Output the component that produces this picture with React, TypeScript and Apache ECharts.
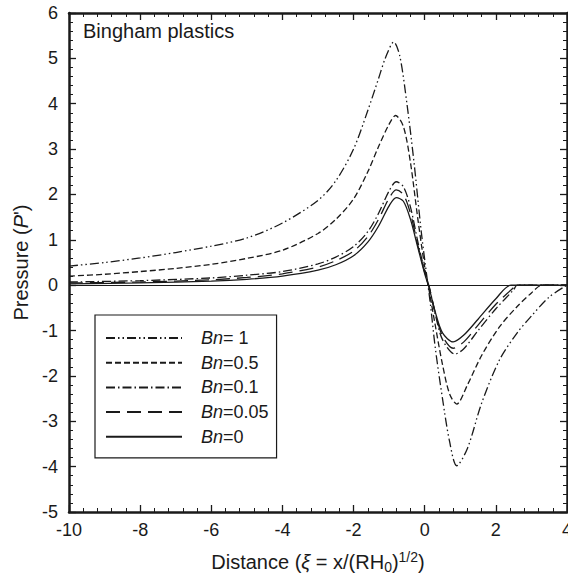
import React, { useEffect, useRef } from "react";
import * as echarts from "echarts";

const seriesNames = ["Bn= 1", "Bn=0.5", "Bn=0.1", "Bn=0.05", "Bn=0"];

const bn1: [number, number][] = [
  [-10, 0.42], [-9, 0.5], [-8, 0.6], [-7, 0.72], [-6, 0.86], [-5, 1.04], [-4, 1.37],
  [-3, 1.87], [-2.5, 2.3], [-2, 3.0], [-1.6, 3.85], [-1.3, 4.55], [-1.1, 5.02], [-0.87, 5.36],
  [-0.7, 5.05], [-0.5, 4.0], [-0.3, 2.7], [-0.1, 1.2], [0.05, 0.25], [0.15, -0.35], [0.3, -1.4],
  [0.5, -2.5], [0.7, -3.45], [0.9, -3.98], [1.2, -3.6], [1.6, -2.6], [2.1, -1.65], [2.6, -1.05],
  [3.0, -0.68], [3.5, -0.26], [4.0, 0],
];
const bn05: [number, number][] = [
  [-10, 0.2], [-9, 0.24], [-8, 0.3], [-7, 0.37], [-6, 0.46], [-5, 0.59], [-4, 0.77],
  [-3, 1.14], [-2.5, 1.45], [-2, 1.9], [-1.6, 2.5], [-1.3, 3.05], [-1.0, 3.55], [-0.82, 3.74],
  [-0.6, 3.5], [-0.4, 2.7], [-0.2, 1.5], [0, 0.4], [0.12, -0.1], [0.3, -0.9], [0.5, -1.75],
  [0.7, -2.4], [0.9, -2.62], [1.2, -2.2], [1.6, -1.55], [2.1, -0.92], [2.6, -0.47], [3.0, -0.17],
  [3.3, 0], [4.0, 0],
];
const bn01: [number, number][] = [
  [-10, 0.07], [-8, 0.1], [-6, 0.16], [-5, 0.22], [-4, 0.3], [-3, 0.47], [-2.5, 0.62],
  [-2, 0.85], [-1.6, 1.18], [-1.3, 1.58], [-1.0, 2.08], [-0.8, 2.28], [-0.6, 2.17], [-0.4, 1.72],
  [-0.2, 0.98], [0, 0.3], [0.13, -0.05], [0.3, -0.65], [0.5, -1.2], [0.85, -1.52], [1.1, -1.4],
  [1.5, -1.0], [2.0, -0.52], [2.5, -0.1], [2.6, 0], [4.0, 0],
];
const bn005: [number, number][] = [
  [-10, 0.05], [-8, 0.07], [-6, 0.12], [-5, 0.17], [-4, 0.25], [-3, 0.4], [-2.5, 0.54],
  [-2, 0.75], [-1.6, 1.07], [-1.3, 1.45], [-1.0, 1.92], [-0.8, 2.1], [-0.6, 2.0], [-0.4, 1.58],
  [-0.2, 0.9], [0, 0.28], [0.13, -0.05], [0.3, -0.62], [0.5, -1.12], [0.8, -1.39], [1.1, -1.25],
  [1.5, -0.88], [2.0, -0.42], [2.5, -0.05], [2.55, 0], [4.0, 0],
];
const bn0: [number, number][] = [
  [-10, 0.03], [-8, 0.05], [-6, 0.09], [-5, 0.13], [-4, 0.2], [-3, 0.33], [-2.5, 0.45],
  [-2, 0.65], [-1.6, 0.95], [-1.3, 1.3], [-1.0, 1.75], [-0.8, 1.93], [-0.6, 1.85], [-0.4, 1.45],
  [-0.2, 0.85], [0, 0.25], [0.12, -0.05], [0.3, -0.6], [0.5, -1.05], [0.8, -1.25], [1.1, -1.1],
  [1.5, -0.75], [2.0, -0.3], [2.43, 0], [4.0, 0],
];

const allData = [bn1, bn05, bn01, bn005, bn0];
const dashes: (number[] | string)[] = [
  [9, 3, 1.5, 3, 1.5, 3],
  [6, 3],
  [9, 3, 1.5, 3],
  [14, 7],
  "solid",
];

const xTicks = { min: -10, max: 4, interval: 2 };
const yTicks = { min: -5, max: 6, interval: 1 };

const FONT = "Liberation Sans, Arial, sans-serif";
const INK = "#1a1a1a";

export default function App() {
  const ref = useRef<HTMLDivElement>(null);
  useEffect(() => {
    if (!ref.current) return;
    document.body.style.margin = "0";
    document.documentElement.style.overflow = "hidden";
    document.body.style.overflow = "hidden";
    const chart = echarts.init(ref.current, undefined, { renderer: "svg", width: 568, height: 583 });
    const axisCommon = {
      axisLine: { show: true, onZero: false, lineStyle: { color: INK, width: 2.5 } },
      axisTick: { show: true, inside: true, length: 7, lineStyle: { color: INK, width: 1.3 } },
      minorTick: { show: true, splitNumber: 5, length: 4, lineStyle: { color: INK, width: 1 } },
      splitLine: { show: false },
      minorSplitLine: { show: false },
    };
    chart.setOption({
      animation: false,
      backgroundColor: "#fff",
      textStyle: { fontFamily: FONT },
      grid: { left: 69, right: 1, top: 13, bottom: 71, containLabel: false, outerBoundsMode: "none" },
      xAxis: [
        {
          type: "value", ...xTicks, position: "bottom",
          ...axisCommon,
          axisLabel: { show: true, color: INK, fontSize: 18, fontFamily: FONT, margin: 9 },
          name: "Distance ({i|ξ} = x/(RH{sub|0}){sup|1/2})",
          nameLocation: "middle",
          nameGap: 38,
          nameTextStyle: {
            color: INK, fontSize: 20, fontFamily: FONT,
            rich: {
              i: { fontStyle: "italic", fontSize: 20, color: INK, fontFamily: FONT },
              sub: { fontSize: 14, color: INK, fontFamily: FONT, verticalAlign: "bottom", padding: [10, 0, 0, 0] },
              sup: { fontSize: 14, color: INK, fontFamily: FONT, verticalAlign: "top", padding: [0, 0, 10, 0] },
            },
          },
        },
        {
          type: "value", ...xTicks, position: "top",
          ...axisCommon,
          axisLabel: { show: false },
        },
      ],
      yAxis: [
        {
          type: "value", ...yTicks, position: "left",
          ...axisCommon,
          axisLabel: { show: true, color: INK, fontSize: 18, fontFamily: FONT, margin: 11 },
          name: "Pressure ({i|P}')",
          nameLocation: "middle",
          nameGap: 38,
          nameTextStyle: {
            color: INK, fontSize: 20, fontFamily: FONT,
            rich: { i: { fontStyle: "italic", fontSize: 20, color: INK, fontFamily: FONT } },
          },
        },
        {
          type: "value", ...yTicks, position: "right",
          ...axisCommon,
          axisLabel: { show: false },
        },
      ],
      legend: {
        show: true,
        orient: "vertical",
        left: 95,
        top: 315,
        data: seriesNames,
        itemWidth: 76,
        itemHeight: 12,
        itemGap: 6.7,
        padding: [14, 8, 12, 10],
        borderColor: INK,
        borderWidth: 1.2,
        backgroundColor: "#fff",
        itemStyle: { color: "rgba(0,0,0,0)", borderColor: "rgba(0,0,0,0)", borderWidth: 0, opacity: 0 },
        formatter: (name: string) => `{i|Bn}{n|${name.slice(2)}}`,
        textStyle: {
          color: INK, fontSize: 18, fontFamily: FONT, padding: [0, 0, 0, 14], lineHeight: 18,
          rich: {
            i: { fontStyle: "italic", fontSize: 18, lineHeight: 18, color: INK, fontFamily: FONT },
            n: { fontSize: 18, lineHeight: 18, color: INK, fontFamily: FONT },
          },
        },
      },
      graphic: [
        {
          type: "text", left: 83, top: 21,
          style: { text: "Bingham plastics", fontSize: 20, fontFamily: FONT, fill: INK },
        },
      ],
      series: [
        ...seriesNames.map((name, i) => ({
          type: "line",
          name,
          data: allData[i],
          smooth: 0.3,
          symbol: "none",
          lineStyle: { color: INK, width: 1.3, type: dashes[i] },
          itemStyle: { color: INK },
          z: 3,
        })),
        {
          type: "line",
          name: "zero",
          data: [],
          symbol: "none",
          markLine: {
            silent: true,
            symbol: ["none", "none"],
            label: { show: false },
            lineStyle: { color: INK, width: 1, type: "solid" },
            data: [{ yAxis: 0 }],
          },
        },
      ],
    });
    return () => chart.dispose();
  }, []);
  return <div ref={ref} style={{ width: 568, height: 583 }} />;
}
